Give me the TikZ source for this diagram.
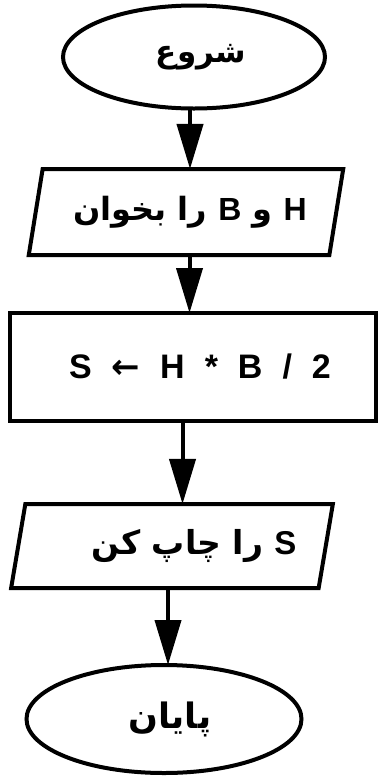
\documentclass[tikz,border=0pt]{standalone}
\usepackage{fontspec}
\setmainfont{Liberation Sans}
\newfontfamily\fa[Script=Arabic]{DejaVu Sans}
\newfontfamily\lat{Liberation Sans}
\TeXXeTstate=1
\usetikzlibrary{shapes.geometric,arrows.meta,calc}

\tikzset{
  base/.style={draw=black, line width=4pt, inner sep=0pt, outer sep=0pt,
    font=\fontsize{32}{38}\selectfont\bfseries},
  terminal/.style={base, ellipse},
  iobox/.style={base, trapezium, trapezium left angle=70,
    trapezium right angle=110, trapezium stretches=true},
  procbox/.style={base, rectangle},
  flow/.style={line width=4pt, -{Triangle[length=45pt,width=26pt]}}
}
\newcommand{\gap}{\hspace{20pt}}
% nudges a label to the right inside its box
\newcommand{\push}[1]{\hspace*{#1}}

\begin{document}
\begin{tikzpicture}[x=1pt, y=-1pt]
  \useasboundingbox (0,0) rectangle (379,777);

  \node[terminal, minimum width=262pt, minimum height=103pt] (start) at (194,57)
    {\push{14pt}\fontsize{31}{37}\selectfont\fa\beginR شروع\endR};
  \node[iobox, minimum width=315pt, minimum height=86pt] (read) at (186,212)
    {\push{8pt}\fa\beginR{\lat H} و {\lat B} را بخوان\endR};
  \node[procbox, minimum width=366pt, minimum height=108pt] (calc) at (193,367)
    {\push{14pt}\fontsize{34}{40}\selectfont S\gap{\fa ←}\gap H\gap *\gap B\gap /\gap 2};
  \node[iobox, minimum width=323pt, minimum height=84pt] (print) at (172,546)
    {\push{44pt}\fontsize{33}{39}\selectfont\fa\beginR{\lat S} را چاپ کن\endR};
  \node[terminal, minimum width=275pt, minimum height=108pt] (stop) at (164,719)
    {\push{12pt}\fontsize{35}{41}\selectfont\fa\beginR پایان\endR};

  % vertical connectors, each halfway between the two boxes it joins
  \coordinate (m1) at ($(start.south)!0.5!(read.north)$);
  \coordinate (m2) at ($(read.south)!0.5!(calc.north)$);
  \coordinate (m3) at ($(calc.south)!0.5!(print.north)$);
  \coordinate (m4) at ($(print.south)!0.5!(stop.north)$);
  \draw[flow] (m1 |- start.south) -- (m1 |- read.north);
  \draw[flow] (m2 |- read.south) -- (m2 |- calc.north);
  \draw[flow] (m3 |- calc.south) -- (m3 |- print.north);
  \draw[flow] (m4 |- print.south) -- (m4 |- stop.north);
\end{tikzpicture}
\end{document}
